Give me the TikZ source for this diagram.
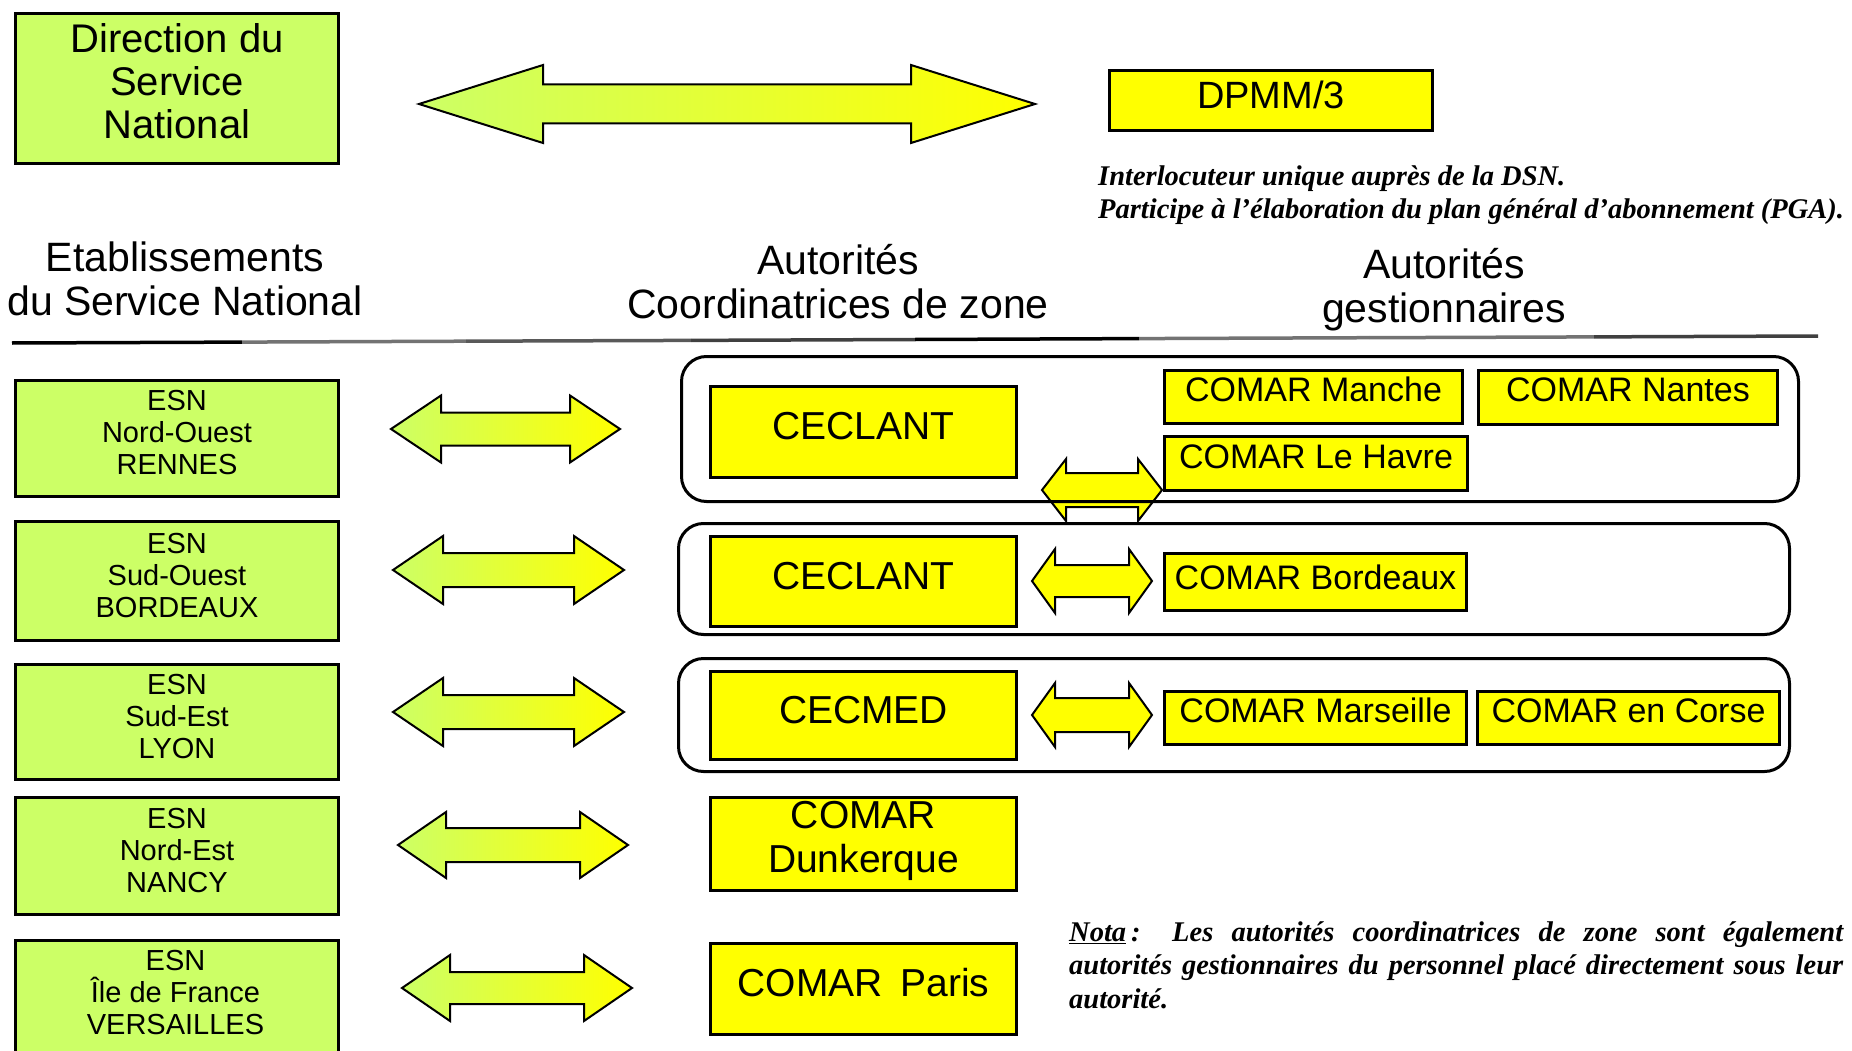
\documentclass[tikz,border=0pt]{standalone}
\usepackage{fontspec}
\setmainfont{Liberation Serif}
\setsansfont{Liberation Sans}
\definecolor{esngreen}{HTML}{CCFF66}
\definecolor{boxyellow}{HTML}{FFFF00}
\newcommand\fsDir{\fontsize{40pt}{43pt}\selectfont}
\newcommand\fsHdr{\fontsize{41pt}{44pt}\selectfont}
\newcommand\fsBig{\fontsize{39pt}{44pt}\selectfont}
\newcommand\fsDpmm{\fontsize{38pt}{44pt}\selectfont}
\newcommand\fsComar{\fontsize{34pt}{40pt}\selectfont}
\newcommand\fsEsn{\fontsize{29pt}{32pt}\selectfont}
\newcommand\fsNote{\fontsize{28.5pt}{33.5pt}\selectfont}
% #1 style, #2 x left tip, #3 x right tip, #4 y centre, #5 half head, #6 half shaft, #7 head length
\newcommand\dblarrow[7]{%
  \path[#1] (#2,#4) -- ++(#7,-#5) -- ++(0,#5-#6) -- (#3-#7,#4-#6) -- ++(0,#6-#5)
    -- (#3,#4) -- ++(-#7,#5) -- ++(0,#6-#5) -- (#2+#7,#4+#6) -- ++(0,#5-#6) -- cycle;}
\tikzset{
  greenbox/.style={draw=black, line width=3pt, fill=esngreen, anchor=north west,
    inner sep=0pt, align=center},
  yellowbox/.style={draw=black, line width=3pt, fill=boxyellow, anchor=north west,
    inner sep=0pt, align=center},
  lift/.style={execute at end node={\rule[-#1]{0pt}{0pt}}},
  zonebox/.style={draw=black, line width=3pt, rounded corners=25pt, anchor=north west,
    inner sep=0pt},
  hdr/.style={font=\sffamily\fsHdr, align=center, inner sep=0pt},
  notetext/.style={font=\rmfamily\bfseries\itshape\fsNote, align=left, inner sep=0pt,
    anchor=north west},
  bigarrow/.style={draw=black, line width=2pt, left color=esngreen, right color=boxyellow},
  smallarrow/.style={draw=black, line width=2pt, fill=boxyellow},
}
\begin{document}
\begin{tikzpicture}[x=1pt,y=-1pt]
\useasboundingbox (0,0) rectangle (1852,1051);
\clip (0,0) rectangle (1852,1051);
\fill[white] (0,0) rectangle (1852,1051);

% ---- top part
\node[greenbox, lift=14pt, font=\sffamily\fsDir, minimum width=323pt, minimum height=150pt]
  (dsn) at (14,12) {Direction du\\Service\\National};
\dblarrow{bigarrow}{419}{1035}{104}{39}{19.5}{124}
\node[yellowbox, lift=12pt, font=\sffamily\fsDpmm, minimum width=323pt, minimum height=60pt]
  (dpmm) at (1108,69) {DPMM/3};
\node[notetext] (dpmmnote) at (1098,165)
  {Interlocuteur unique auprès de la DSN.\\Participe à l’élaboration du plan général d’abonnement (PGA).};

% ---- headers
\node[hdr] (h1) at (185,279) {Etablissements\\du Service National};
\node[hdr] (h2) at (838,282) {Autorités\\Coordinatrices de zone};
\node[hdr] (h3) at (1444,290) {Autorités\\gestionnaires};
\foreach \xa/\ya/\xb/\yb/\g in {12/343/242/342.1/black, 242/342.1/466/341.2/black!55,
  466/341.2/691/340.4/black!65, 691/340.4/915/339.5/black!75, 915/339.5/1139/338.6/black,
  1139/338.6/1369/337.7/black!55, 1369/337.7/1594/336.9/black!55, 1594/336.9/1818/336/black!75}
  \draw[line width=3.5pt, \g] (\xa,\ya) -- (\xb,\yb);

% ---- ESN column
\node[greenbox, lift=12pt, font=\sffamily\fsEsn, minimum width=323pt, minimum height=116pt]
  (esn1) at (14,379) {ESN\\Nord-Ouest\\RENNES};
\node[greenbox, lift=12pt, font=\sffamily\fsEsn, minimum width=323pt, minimum height=119pt]
  (esn2) at (14,520) {ESN\\Sud-Ouest\\BORDEAUX};
\node[greenbox, lift=12pt, font=\sffamily\fsEsn, minimum width=323pt, minimum height=115pt]
  (esn3) at (14,663) {ESN\\Sud-Est\\LYON};
\node[greenbox, lift=12pt, font=\sffamily\fsEsn, minimum width=323pt, minimum height=117pt]
  (esn4) at (14,796) {ESN\\Nord-Est\\NANCY};
\node[greenbox, minimum width=323pt, minimum height=140pt] (esn5) at (14,939) {};
\node[font=\sffamily\fsEsn, align=center, inner sep=0pt] (esn5text) at (175.5,993)
  {ESN\\Île de France\\VERSAILLES};

% ---- arrows ESN <-> zone authorities
\dblarrow{bigarrow}{391}{620}{429}{33.5}{16.5}{50}
\dblarrow{bigarrow}{393}{624}{570}{34}{17}{50}
\dblarrow{bigarrow}{393}{624}{712}{34}{17}{50}
\dblarrow{bigarrow}{398}{628}{845}{33}{17}{48}
\dblarrow{bigarrow}{402}{632}{988}{33}{16}{48}

% ---- small arrows coordinators <-> managers
\dblarrow{smallarrow}{1042}{1162}{490}{31}{17}{24}
\dblarrow{smallarrow}{1032}{1152}{581}{32}{16}{23}
\dblarrow{smallarrow}{1032}{1152}{715}{32}{17}{23}

% ---- zone containers
\node[zonebox, minimum width=1117pt, minimum height=145pt] (zone1) at (680,355) {};
\node[zonebox, minimum width=1111pt, minimum height=111pt] (zone2) at (677,522) {};
\node[zonebox, minimum width=1111pt, minimum height=113pt] (zone3) at (677,657) {};

% ---- coordinating authorities
\node[yellowbox, lift=12pt, font=\sffamily\fsBig, minimum width=306pt, minimum height=91pt]
  (ceclant1) at (709,385) {CECLANT};
\node[yellowbox, lift=12pt, font=\sffamily\fsBig, minimum width=306pt, minimum height=90pt]
  (ceclant2) at (709,535) {CECLANT};
\node[yellowbox, lift=12pt, font=\sffamily\fsBig, minimum width=306pt, minimum height=88pt]
  (cecmed) at (709,670) {CECMED};
\node[yellowbox, lift=15pt, font=\sffamily\fsBig, minimum width=306pt, minimum height=93pt]
  (dunk) at (709,796) {COMAR\\Dunkerque};
\node[yellowbox, lift=14pt, font=\sffamily\fsBig, minimum width=306pt, minimum height=91pt]
  (paris) at (709,942) {COMAR\hspace{0.45em}Paris};

% ---- managing authorities
\node[yellowbox, lift=16pt, font=\sffamily\fsComar, minimum width=298pt, minimum height=53pt]
  (manche) at (1163,369) {COMAR Manche};
\node[yellowbox, lift=16pt, font=\sffamily\fsComar, minimum width=299pt, minimum height=54pt]
  (nantes) at (1477,369) {COMAR Nantes};
\node[yellowbox, lift=14pt, font=\sffamily\fsComar, minimum width=303pt, minimum height=54pt]
  (havre) at (1163,435) {COMAR Le Havre};
\node[yellowbox, lift=10pt, font=\sffamily\fsComar, minimum width=302pt, minimum height=57pt]
  (bordeaux) at (1163,552) {COMAR Bordeaux};
\node[yellowbox, lift=16pt, font=\sffamily\fsComar, minimum width=302pt, minimum height=53pt]
  (marseille) at (1163,690) {COMAR Marseille};
\node[yellowbox, lift=14pt, font=\sffamily\fsComar, minimum width=302pt, minimum height=53pt]
  (corse) at (1476,690) {COMAR en Corse};

% ---- note
\node[notetext] (nota) at (1069,921)
  {\makebox[774pt][s]{\underline{Nota}\kern5pt: Les autorités coordinatrices de zone sont également}\\
   \makebox[774pt][s]{autorités gestionnaires du personnel placé directement sous leur}\\
   autorité.};
\end{tikzpicture}
\end{document}
